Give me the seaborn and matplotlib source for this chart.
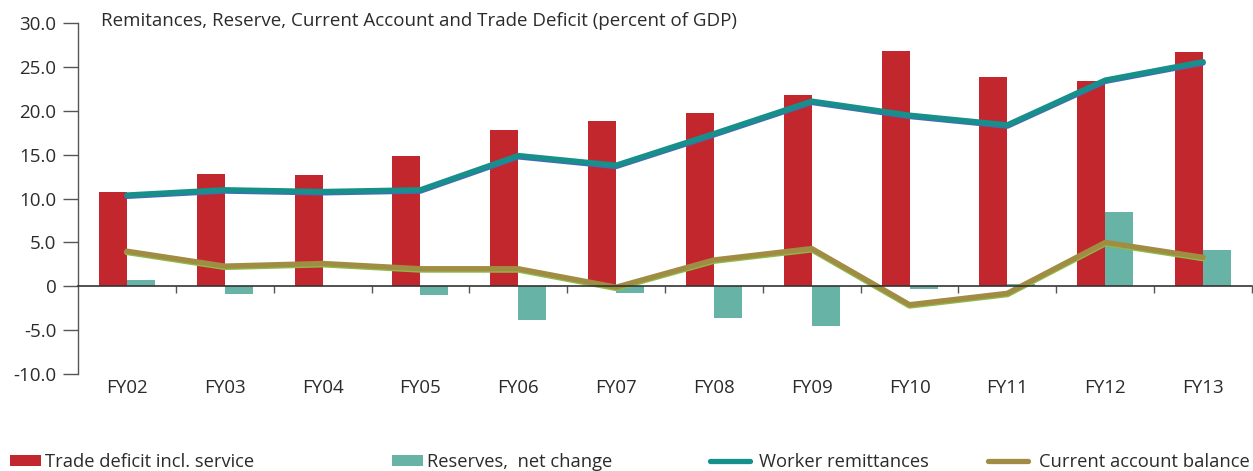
import numpy as np
import pandas as pd
import matplotlib
matplotlib.use("Agg")
import matplotlib.pyplot as plt
import matplotlib.patheffects as pe
from matplotlib.patches import Patch
from matplotlib.lines import Line2D
import seaborn as sns

# Fiscal years and series, percent of GDP
years = ["FY02", "FY03", "FY04", "FY05", "FY06", "FY07",
         "FY08", "FY09", "FY10", "FY11", "FY12", "FY13"]
trade_deficit = [10.7, 12.8, 12.7, 14.8, 17.8, 18.8, 19.8, 21.8, 26.8, 23.8, 23.4, 26.7]
reserves_change = [0.7, -0.9, 0.0, -1.0, -3.9, -0.8, -3.6, -4.5, -0.3, 0.2, 8.5, 4.1]
worker_remittances = [10.4, 11.0, 10.8, 11.0, 14.9, 13.8, 17.4, 21.1, 19.5, 18.4, 23.5, 25.6]
current_account = [4.0, 2.3, 2.6, 2.0, 2.0, -0.1, 3.0, 4.3, -2.1, -0.8, 5.0, 3.3]

series_names = ["Trade deficit incl. service", "Reserves,  net change",
                "Worker remittances", "Current account balance"]
y_ticks = [-10, -5, 0, 5, 10, 15, 20, 25, 30]
y_tick_labels = ["-10.0", "-5.0", "0", "5.0", "10.0", "15.0", "20.0", "25.0", "30.0"]
title = "Remitances, Reserve, Current Account and Trade Deficit (percent of GDP)"

RED = "#C1272D"
TEAL_BAR = "#67B3A6"
TEAL_LINE = "#178F8A"
OLIVE = "#A08C42"
TEXT = "#2b2b2b"

sns.set_theme(style="white")
plt.rcParams["font.family"] = ["Open Sans", "DejaVu Sans"]

bars = pd.DataFrame({
    "year": years * 2,
    "value": trade_deficit + reserves_change,
    "series": [series_names[0]] * len(years) + [series_names[1]] * len(years),
})
lines = pd.DataFrame({
    "pos": list(range(len(years))) * 2,
    "value": worker_remittances + current_account,
    "series": [series_names[2]] * len(years) + [series_names[3]] * len(years),
})

fig = plt.figure(figsize=(12.53, 4.71), dpi=100)
ax = fig.add_axes([78 / 1253, 1 - 374 / 471, 1174 / 1253, 351 / 471])

sns.barplot(data=bars, x="year", y="value", hue="series", order=years,
            hue_order=series_names[:2], palette=[RED, TEAL_BAR],
            width=0.573, linewidth=0, saturation=1, legend=False, ax=ax)
sns.lineplot(data=lines, x="pos", y="value", hue="series",
             hue_order=series_names[2:], palette=[TEAL_LINE, OLIVE],
             linewidth=3.8, legend=False, ax=ax, solid_capstyle="round")

# thin coloured rim under each line
for line, rim in zip(ax.get_lines()[-2:], ["#3f6fb0", "#8dbb4a"]):
    line.set_path_effects([
        pe.Stroke(linewidth=4.0, foreground=rim, offset=(0, -0.9)),
        pe.Normal(),
    ])

ax.set_xlim(-0.5, len(years) - 0.5)
ax.set_ylim(-10, 30)
ax.set_xlabel("")
ax.set_ylabel("")

# y axis
ax.set_yticks(y_ticks)
ax.set_yticklabels(y_tick_labels)
ax.tick_params(axis="y", direction="out", length=10.5, width=1, color="#555555",
               labelsize=13.5, labelcolor=TEXT, pad=5, left=True)

# category axis sitting on the zero line: boundary ticks, labels in the middle
ax.spines["bottom"].set_position(("data", 0))
ax.spines["bottom"].set_color("#333333")
ax.spines["bottom"].set_linewidth(1.2)
ax.spines["left"].set_color("#555555")
ax.spines["left"].set_linewidth(1.0)
ax.spines["top"].set_visible(False)
ax.spines["right"].set_visible(False)
ax.set_xticks(np.arange(len(years)) + 0.5)
ax.set_xticklabels([])
ax.set_xticks(np.arange(len(years)), minor=True)
ax.set_xticklabels(years, minor=True)
ax.tick_params(axis="x", which="major", direction="out", length=5, width=1,
               color="#555555", bottom=True)
ax.tick_params(axis="x", which="minor", length=0, pad=67, labelsize=13.5,
               labelcolor=TEXT, bottom=True)

fig.text(101 / 1253, 1 - 21 / 471, title, fontsize=13.5, color=TEXT, va="center", ha="left")

# legend entries spread along the bottom edge
handles = [
    Patch(facecolor=RED, edgecolor="none"),
    Patch(facecolor=TEAL_BAR, edgecolor="none"),
    Line2D([], [], color=TEAL_LINE, linewidth=3.8, solid_capstyle="round"),
    Line2D([], [], color=OLIVE, linewidth=3.8, solid_capstyle="round"),
]
anchors = [10, 392, 710, 988]
hlengths = [1.7, 1.7, 2.2, 2.2]
tpads = [0.2, 0.2, 0.45, 0.6]
for h, name, xa, hl, tp in zip(handles, series_names, anchors, hlengths, tpads):
    fig.legend([h], [name], loc="upper left", bbox_to_anchor=(xa / 1253, 1 - 453 / 471),
               frameon=False, fontsize=13.2, handlelength=hl, handleheight=0.5,
               handletextpad=tp, borderpad=0, borderaxespad=0, labelcolor=TEXT)

fig.savefig("out.png", dpi=100)
